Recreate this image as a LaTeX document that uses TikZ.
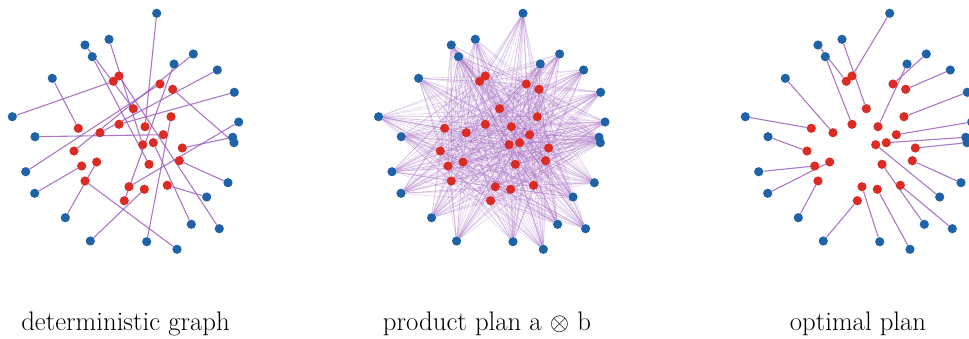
\documentclass[tikz,border=0pt]{standalone}
\definecolor{planBlue}{RGB}{30,98,168}
\definecolor{planRed}{RGB}{218,44,36}
\definecolor{linkPurple}{RGB}{158,96,188}
\usepackage{amsmath,amssymb}
\usepackage{tikz}
\usetikzlibrary{backgrounds}

\begin{document}
\begin{tikzpicture}[x=1pt, y=-1pt,
    bdot/.style={circle, fill=planBlue, inner sep=0pt, minimum size=9.2pt},
    rdot/.style={circle, fill=planRed, inner sep=0pt, minimum size=9.2pt},
    plink/.style={linkPurple, line width=1.1pt, opacity=0.85},
    plinkfaint/.style={linkPurple, line width=0.55pt, opacity=0.3},
    caption/.style={font=\fontsize{26.8}{31}\selectfont, anchor=base}]
  \useasboundingbox (0,0) rectangle (969,338);
  % Points: blue sources and red targets, repeated in all three panels
  \foreach \pn/\dx in {det/0, prod/366.3, opt/733}{
    \foreach \x/\y [count=\i] in {156.7/13.3, 109/39.3, 85/45, 92.3/56.7,
        193.3/54, 174/64, 217.3/70, 52.3/78.3, 234.3/92.3, 12.3/116.7,
        238.7/122, 35/136.7, 232.7/137.3, 234/142.7, 25.7/171.7, 228/182.7,
        34.7/193.3, 206.7/197, 65.3/217.7, 191.3/224.3, 219.3/228.7,
        90.3/241, 146.7/241.7, 177/249.3}
      \node[bdot] (\pn-b\i) at (\x+\dx,\y) {};
    \foreach \x/\y [count=\i] in {119/76, 113.3/81.3, 160/84, 172.7/89.3,
        133.3/108.7, 171/116.7, 78.3/128.3, 119/124.3, 145/126.7, 100/132.7,
        163.3/134.7, 142.7/144.7, 153.3/142.7, 182.3/148, 74/151, 96.7/162,
        81.7/166, 149/164.3, 179.3/160.7, 85/181, 129/186.7, 167.3/185.3,
        144.3/189.3, 124.3/200.7}
      \node[rdot] (\pn-r\i) at (\x+\dx,\y) {};
  }
  % Links
  \begin{scope}[on background layer]
    \foreach \i/\j in {1/9, 2/12, 3/5, 4/18, 5/15, 6/24, 7/10, 8/7, 9/8,
        10/2, 11/21, 12/11, 13/14, 14/4, 15/3, 16/19, 17/17, 18/22, 19/16,
        20/13, 21/1, 22/23, 23/6, 24/20}
      \draw[plink] (det-b\i) -- (det-r\j);
    \foreach \i in {1,...,24}
      \foreach \j in {1,...,24}
        \draw[plinkfaint] (prod-b\i) -- (prod-r\j);
    \foreach \i/\j in {1/1, 2/5, 3/2, 4/8, 5/3, 6/9, 7/4, 8/10, 9/6, 10/7,
        11/11, 12/15, 13/13, 14/14, 15/17, 16/19, 17/16, 18/12, 19/20,
        20/18, 21/22, 22/24, 23/21, 24/23}
      \draw[plink] (opt-b\i) -- (opt-r\j);
  \end{scope}
  % Captions
  \node[caption] (cap-det) at (125.5,330) {deterministic graph};
  \node[caption] (cap-prod) at (487,330) {product plan a $\otimes$ b};
  \node[caption] (cap-opt) at (858,330) {optimal plan};
\end{tikzpicture}
\end{document}
